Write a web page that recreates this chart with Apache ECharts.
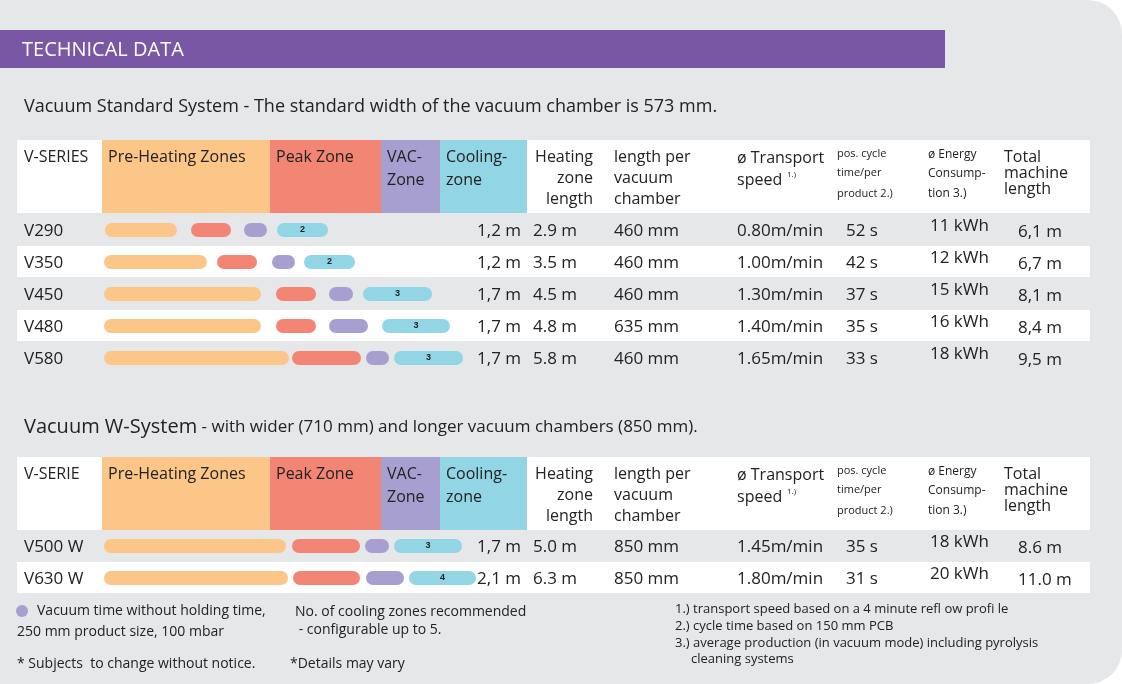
<!DOCTYPE html>
<html>
<head>
<meta charset="utf-8">
<script src="https://cdn.jsdelivr.net/npm/echarts@6/dist/echarts.min.js"></script>
<style>
  html, body { margin: 0; padding: 0; background: #fff; }
  #chart { width: 1122px; height: 684px; }
</style>
</head>
<body>
<div id="chart"></div>
<script>
// zone lengths as drawn (pixel units of the layout axis)
const stdModels = ['V290', 'V350', 'V450', 'V480', 'V580']
const stdOffset = [105, 104, 104, 104, 104]
const stdPre = [72, 103, 157, 157, 185]
const stdGap1 = [14, 10, 15, 15, 3]
const stdPeak = [40, 40, 40, 40, 69]
const stdGap2 = [13, 15, 13, 13, 5]
const stdVac = [23, 23, 24, 39, 23]
const stdGap3 = [10, 9, 10, 14, 5]
const stdCool = [51, 51, 69, 68, 69]
const stdCoolZones = [2, 2, 3, 3, 3]
const stdHeatLen = ['1,2 m', '1,2 m', '1,7 m', '1,7 m', '1,7 m']
const stdZoneLen = ['2.9 m', '3.5 m', '4.5 m', '4.8 m', '5.8 m']
const stdChamber = ['460 mm', '460 mm', '460 mm', '635 mm', '460 mm']
const stdSpeed = ['0.80m/min', '1.00m/min', '1.30m/min', '1.40m/min', '1.65m/min']
const stdCycle = ['52 s', '42 s', '37 s', '35 s', '33 s']
const stdEnergy = ['11 kWh', '12 kWh', '15 kWh', '16 kWh', '18 kWh']
const stdTotal = ['6,1 m', '6,7 m', '8,1 m', '8,4 m', '9,5 m']

const wModels = ['V500 W', 'V630 W']
const wOffset = [104, 104]
const wPre = [182, 184]
const wGap1 = [6, 5]
const wPeak = [68, 67]
const wGap2 = [5, 6]
const wVac = [24, 38]
const wGap3 = [5, 5]
const wCool = [68, 67]
const wCoolZones = [3, 4]
const wHeatLen = ['1,7 m', '2,1 m']
const wZoneLen = ['5.0 m', '6.3 m']
const wChamber = ['850 mm', '850 mm']
const wSpeed = ['1.45m/min', '1.80m/min']
const wCycle = ['35 s', '31 s']
const wEnergy = ['18 kWh', '20 kWh']
const wTotal = ['8.6 m', '11.0 m']

const C_PRE = '#fcc689', C_PEAK = '#f38574', C_VAC = '#a79fd0', C_COOL = '#92d5e5'
const FONT = '"Open Sans", "Noto Sans", sans-serif'

function makeSeries(idx, parts, zones) {
    const colors = [null, C_PRE, null, C_PEAK, null, C_VAC, null, C_COOL]
    return parts.map((d, i) => ({
        type: 'bar',
        stack: 's' + idx,
        xAxisIndex: idx,
        yAxisIndex: idx,
        barWidth: 14,
        silent: true,
        data: d,
        itemStyle: colors[i] ? { color: colors[i], borderRadius: 7 } : { color: 'transparent' },
        label: i === 7 ? {
            show: true, position: 'inside', color: '#222', fontSize: 9, fontWeight: 'bold',
            formatter: p => zones[p.dataIndex]
        } : { show: false }
    }))
}

function txt(x, y, text, opt) {
    return Object.assign({
        type: 'text', x: x, y: y,
        style: Object.assign({ text: text, fill: '#222', font: '17px ' + FONT, textVerticalAlign: 'middle' }, (opt || {}))
    })
}
function rect(x, y, w, h, fill, r) {
    return { type: 'rect', z: -10, shape: { x: x, y: y, width: w, height: h, r: r || 0 }, style: { fill: fill } }
}
function small(size) { return size + 'px ' + FONT }

let g = []
// panel
g.push(rect(0, 0, 1122, 684, '#e6e7e9', [0, 34, 34, 0]))
g.push(rect(0, 30, 945, 38, '#7a57a4'))
g.push(txt(22, 50, 'TECHNICAL DATA', { fill: '#fff', font: '20px ' + FONT }))

function header(top, firstLabel) {
    g.push(rect(17, top, 1073, 73, '#fff'))
    g.push(rect(102, top, 168, 73, C_PRE))
    g.push(rect(270, top, 111, 73, C_PEAK))
    g.push(rect(381, top, 59, 73, C_VAC))
    g.push(rect(440, top, 87, 73, C_COOL))
    const y = top + 17
    g.push(txt(24, y, firstLabel, { font: small(16) }))
    g.push(txt(108, y, 'Pre-Heating Zones', { font: small(16) }))
    g.push(txt(276, y, 'Peak Zone', { font: small(16) }))
    g.push(txt(387, y, 'VAC-', { font: small(16) }))
    g.push(txt(387, y + 23, 'Zone', { font: small(16) }))
    g.push(txt(446, y, 'Cooling-', { font: small(16) }))
    g.push(txt(446, y + 23, 'zone', { font: small(16) }))
    g.push(txt(593, y, 'Heating', { font: small(16), textAlign: 'right' }))
    g.push(txt(593, y + 21, 'zone', { font: small(16), textAlign: 'right' }))
    g.push(txt(593, y + 42, 'length', { font: small(16), textAlign: 'right' }))
    g.push(txt(614, y, 'length per', { font: small(16) }))
    g.push(txt(614, y + 21, 'vacuum', { font: small(16) }))
    g.push(txt(614, y + 42, 'chamber', { font: small(16) }))
    g.push(txt(737, y + 1, 'ø Transport', { font: small(16) }))
    g.push(txt(737, y + 23, 'speed', { font: small(16) }))
    g.push(txt(787, y + 18, '1.)', { font: small(8) }))
    g.push(txt(837, y - 3, 'pos. cycle', { font: small(11) }))
    g.push(txt(837, y + 16, 'time/per', { font: small(11) }))
    g.push(txt(837, y + 37, 'product 2.)', { font: small(11) }))
    g.push(txt(928, y - 2, 'ø Energy', { font: small(12) }))
    g.push(txt(928, y + 17, 'Consump-', { font: small(12) }))
    g.push(txt(928, y + 37, 'tion 3.)', { font: small(12) }))
    g.push(txt(1004, y, 'Total', { font: small(16) }))
    g.push(txt(1004, y + 16, 'machine', { font: small(16) }))
    g.push(txt(1004, y + 32, 'length', { font: small(16) }))
}

function rows(top, models, heat, zone, ch, sp, cy, en, tot, whiteRows) {
    models.forEach((m, i) => {
        const y0 = top + i * 32
        if (whiteRows.includes(i)) g.push(rect(17, y0, 1073, 31, '#fff'))
        const y = y0 + 17
        g.push(txt(24, y, m))
        g.push(txt(521, y, heat[i], { textAlign: 'right' }))
        g.push(txt(533, y, zone[i]))
        g.push(txt(614, y, ch[i]))
        g.push(txt(737, y, sp[i]))
        g.push(txt(846, y, cy[i]))
        g.push(txt(930, y - 5, en[i]))
        g.push(txt(1018, y + 1, tot[i]))
    })
}

g.push(txt(24, 107, 'Vacuum Standard System - The standard width of the vacuum chamber is 573 mm.', { font: small(18) }))
header(140, 'V-SERIES')
rows(214, stdModels, stdHeatLen, stdZoneLen, stdChamber, stdSpeed, stdCycle, stdEnergy, stdTotal, [1, 3])

g.push({
    type: 'text', x: 24, y: 427,
    style: {
        text: '{a|Vacuum W-System}{b| - with wider (710 mm) and longer vacuum chambers (850 mm).}',
        textVerticalAlign: 'middle',
        rich: { a: { font: small(20), fill: '#222' }, b: { font: small(17), fill: '#222' } }
    }
})
header(457, 'V-SERIE')
rows(530, wModels, wHeatLen, wZoneLen, wChamber, wSpeed, wCycle, wEnergy, wTotal, [1])

// footnotes
g.push({ type: 'circle', shape: { cx: 22, cy: 611, r: 6 }, style: { fill: C_VAC } })
g.push(txt(37, 611, 'Vacuum time without holding time,', { font: small(14) }))
g.push(txt(17, 632, '250 mm product size, 100 mbar', { font: small(14) }))
g.push(txt(295, 612, 'No. of cooling zones recommended', { font: small(14) }))
g.push(txt(295, 630, ' - configurable up to 5.', { font: small(14) }))
g.push(txt(17, 664, '* Subjects  to change without notice.', { font: small(14) }))
g.push(txt(290, 664, '*Details may vary', { font: small(14) }))
g.push(txt(675, 609, '1.) transport speed based on a 4 minute refl ow profi le', { font: small(13) }))
g.push(txt(675, 626, '2.) cycle time based on 150 mm PCB', { font: small(13) }))
g.push(txt(675, 643, '3.) average production (in vacuum mode) including pyrolysis', { font: small(13) }))
g.push(txt(691, 659, 'cleaning systems', { font: small(13) }))

const chart = echarts.init(document.getElementById('chart'))
chart.setOption({
    animation: false,
    grid: [
        { left: 0, top: 214, width: 1122, height: 160 },
        { left: 0, top: 530, width: 1122, height: 64 }
    ],
    xAxis: [0, 1].map(i => ({ gridIndex: i, type: 'value', min: 0, max: 1122, show: false })),
    yAxis: [
        { gridIndex: 0, type: 'category', inverse: true, data: stdModels, show: false },
        { gridIndex: 1, type: 'category', inverse: true, data: wModels, show: false }
    ],
    graphic: g,
    series: makeSeries(0, [stdOffset, stdPre, stdGap1, stdPeak, stdGap2, stdVac, stdGap3, stdCool], stdCoolZones)
        .concat(makeSeries(1, [wOffset, wPre, wGap1, wPeak, wGap2, wVac, wGap3, wCool], wCoolZones))
})
</script>
</body>
</html>
